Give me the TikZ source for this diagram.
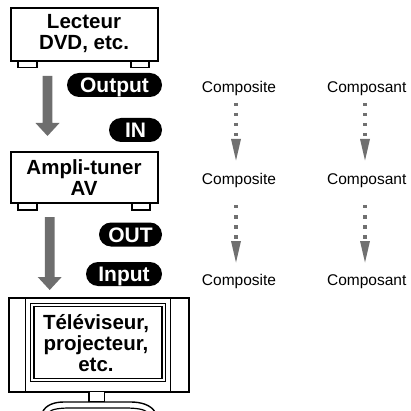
\documentclass[tikz,border=0pt]{standalone}
\usepackage{fontspec}
\setmainfont{Liberation Sans}
\usetikzlibrary{calc}
\definecolor{biggray}{HTML}{6E6E6E}
\definecolor{dotgray}{HTML}{707070}
\tikzset{
  boxline/.style={draw=black,line width=2pt,fill=white},
  footline/.style={draw=black,line width=1.4pt,fill=white},
  thinline/.style={draw=black,line width=1pt},
  boxtext/.style={font=\fontsize{20.5}{21}\selectfont\bfseries,inner sep=0pt,anchor=base},
  pill/.style={fill=black,text=white,rounded corners=12pt,minimum height=24pt,
    text height=15pt,text depth=0pt,inner ysep=4.5pt,inner xsep=0pt,
    font=\fontsize{21}{21}\selectfont\bfseries},
  sigtext/.style={font=\fontsize{15.5}{16}\selectfont,inner sep=0pt,anchor=base},
  dotline/.style={draw=dotgray,line width=3.5pt,dash pattern=on 3.5pt off 6.5pt},
  dothead/.style={fill=dotgray},
  bigarrow/.style={fill=biggray}
}
\begin{document}
\begin{tikzpicture}[x=1pt,y=-1pt]
\useasboundingbox (0,0) rectangle (410,411);
% Lecteur DVD
\path[footline] (18,61) rectangle (37,67.5);
\path[footline] (131,61) rectangle (149,67.5);
\node[boxline,minimum width=147pt,minimum height=53pt,inner sep=0pt] (lecteur) at (84.5,34.5) {};
\node[boxtext] (lecteurA) at (84,28.3) {Lecteur};
\node[boxtext] (lecteurB) at (84,49.3) {DVD, etc.};
% Ampli
\path[footline] (18,203) rectangle (37,210);
\path[footline] (132,203) rectangle (150,210);
\node[boxline,minimum width=147pt,minimum height=51pt,inner sep=0pt] (ampli) at (84.5,177.5) {};
\node[boxtext] (ampliA) at (84,175) {Ampli-tuner};
\node[boxtext] (ampliB) at (84,196) {AV};
% big gray arrows
\coordinate (g1s) at (47.5,76);
\coordinate (g2s) at (49.7,217);
\path[bigarrow] ($(g1s)+(-4.8,0)$) -- ++(9.6,0) -- ++(0,47) -- ++(7.2,0) -- ++(-12,13) -- ++(-12,-13) -- ++(7.2,0) -- cycle;
\path[bigarrow] ($(g2s)+(-4.8,0)$) -- ++(9.6,0) -- ++(0,60) -- ++(7.2,0) -- ++(-12,13) -- ++(-12,-13) -- ++(7.2,0) -- cycle;
% pills
\node[pill,minimum width=95pt] (output) at (114.5,85) {Output};
\node[pill,minimum width=53pt] (in) at (135.5,130) {IN};
\node[pill,minimum width=63pt] (out) at (130.5,234.5) {OUT};
\node[pill,minimum width=76pt] (input) at (124,274) {Input};
% TV
\path[boxline] (9,298.3) rectangle (189,391.7);
\draw[thinline] (25.7,298.3) -- (25.7,391.7);
\draw[thinline] (170.3,298.3) -- (170.3,391.7);
\draw[thinline] (30.7,303.3) rectangle (165.3,381.7);
\draw[draw=black,line width=1.2pt] (34,306.5) rectangle (162,378.3);
\node[boxtext] (tvA) at (96,329.3) {Téléviseur,};
\node[boxtext] (tvB) at (96,350.7) {projecteur,};
\node[boxtext] (tvC) at (96,371.7) {etc.};
\path[footline] (89,391.7) rectangle (104.3,401.7);
\draw[black,line width=1.4pt] (42.5,412) .. controls (46,405) and (54,402) .. (64,402) -- (131,402) .. controls (141,402) and (151,405) .. (155,412);
\draw[black,line width=1.2pt] (49,412) .. controls (52,409) and (60,408) .. (70,408) -- (125,408) .. controls (135,408) and (144,409) .. (147,412);
% signal columns
\node[sigtext] (cs1) at (239,93) {Composite};
\node[sigtext] (cs2) at (239,185) {Composite};
\node[sigtext] (cs3) at (239,285) {Composite};
\node[sigtext] (cp1) at (366.7,93) {Composant};
\node[sigtext] (cp2) at (366.7,185) {Composant};
\node[sigtext] (cp3) at (366.7,285) {Composant};
% dotted arrows
\foreach \xx/\ys in {236/103,365/103,236/205,365/205}{
  \draw[dotline] (\xx,\ys) -- (\xx,\ys+34);
  \path[dothead] (\xx-5,\ys+36) -- (\xx+5,\ys+36) -- (\xx,\ys+57.5) -- cycle;
}
\end{tikzpicture}
\end{document}
